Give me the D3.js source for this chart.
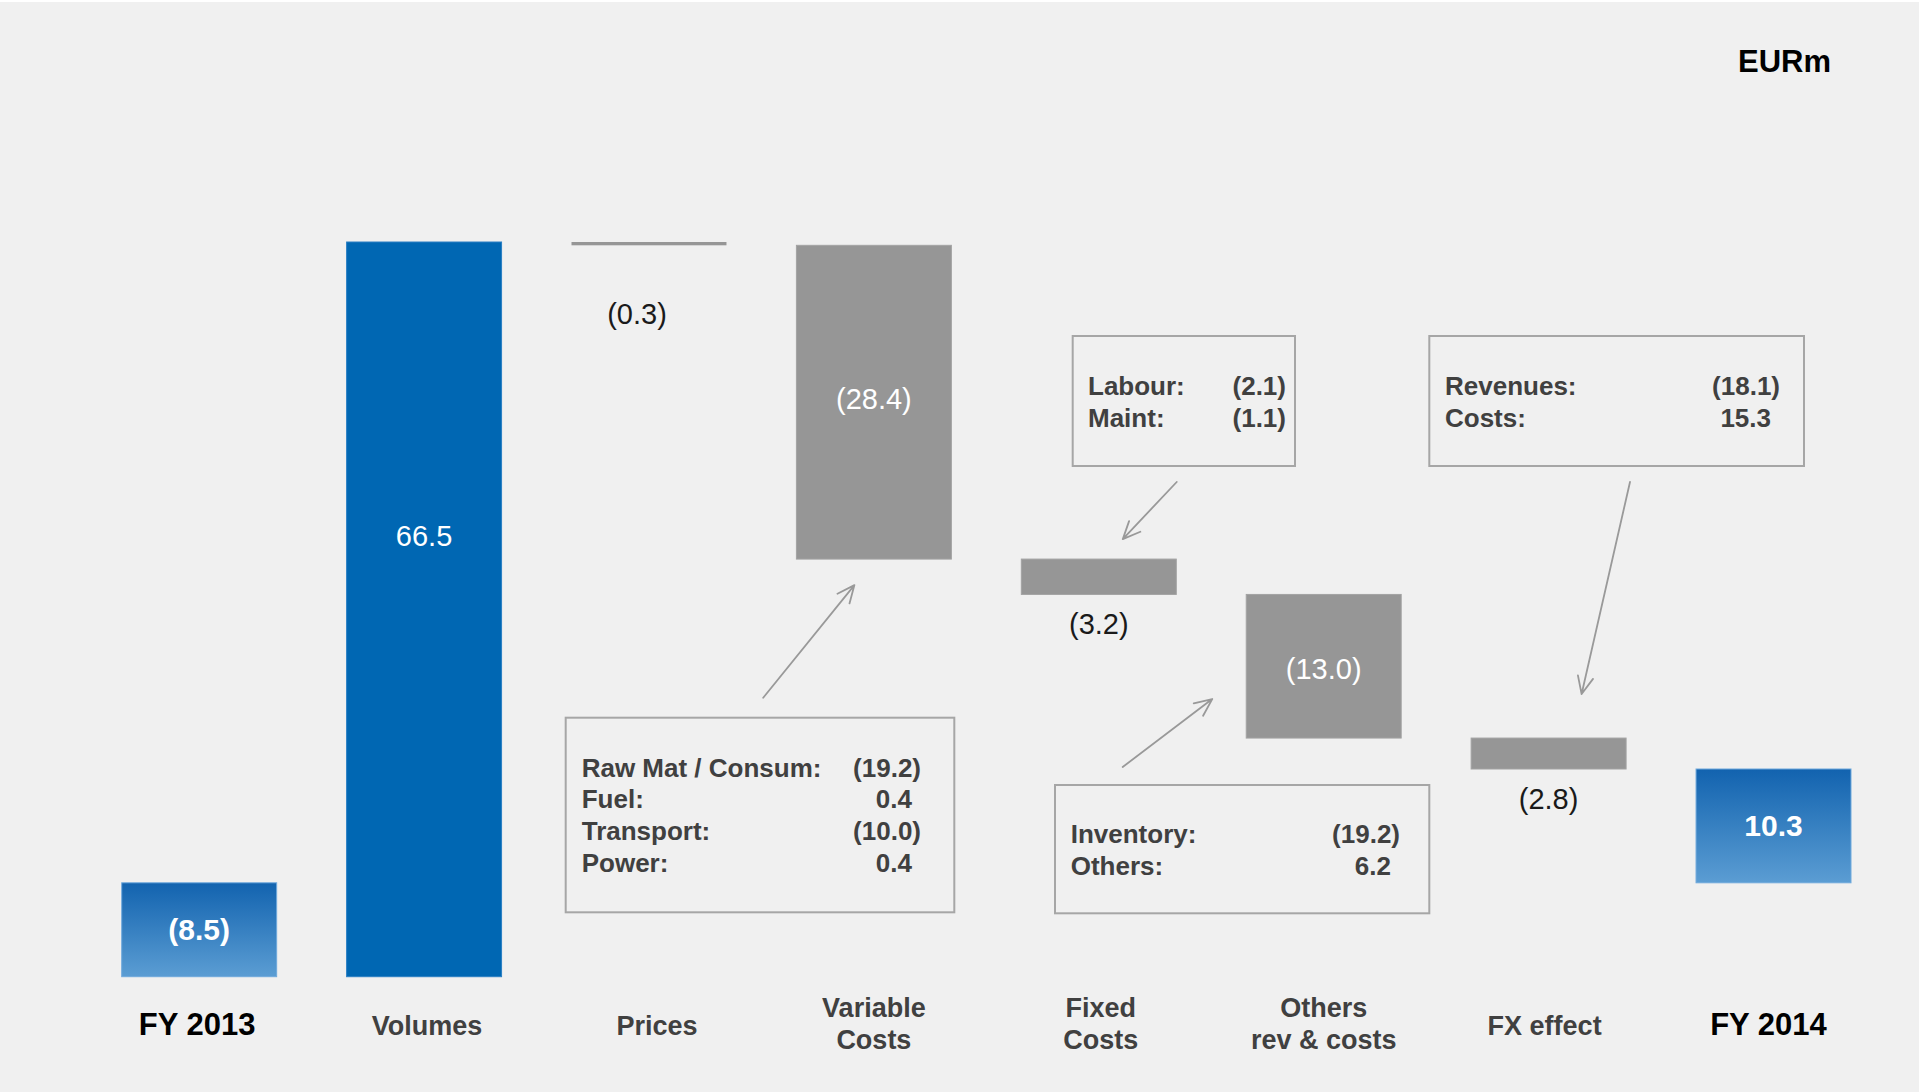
<!DOCTYPE html>
<html>
<head>
<meta charset="utf-8">
<script src="https://cdn.jsdelivr.net/npm/d3@7"></script>
<style>
  html, body { margin: 0; padding: 0; background: #f0f0f0; }
  svg { display: block; font-family: "Liberation Sans", Arial, sans-serif; }
</style>
</head>
<body>
<svg id="chart" width="1919" height="1092"></svg>
<script>
// EBITDA bridge FY 2013 -> FY 2014 (EURm)
const categories = ["FY 2013", "Volumes", "Prices", "Variable Costs", "Fixed Costs", "Others rev & costs", "FX effect", "FY 2014"];
const categoryLines = [["FY 2013"], ["Volumes"], ["Prices"], ["Variable", "Costs"], ["Fixed", "Costs"], ["Others", "rev & costs"], ["FX effect"], ["FY 2014"]];
const values = [-8.5, 66.5, -0.3, -28.4, -3.2, -13.0, -2.8, 10.3];
const kinds = ["total", "delta", "delta", "delta", "delta", "delta", "delta", "total"];

// Breakdown call-outs
const variableItems = ["Raw Mat / Consum:", "Fuel:", "Transport:", "Power:"];
const variableItemValues = [-19.2, 0.4, -10.0, 0.4];
const fixedItems = ["Labour:", "Maint:"];
const fixedItemValues = [-2.1, -1.1];
const othersItems = ["Inventory:", "Others:"];
const othersItemValues = [-19.2, 6.2];
const fxItems = ["Revenues:", "Costs:"];
const fxItemValues = [-18.1, 15.3];

const unitLabel = "EURm";

const fmt = v => v < 0 ? `(${Math.abs(v).toFixed(1)})` : v.toFixed(1);

// running totals -> bar extents
let run = 0;
const bars = categories.map((c, i) => {
  let lo, hi;
  if (kinds[i] === "total") { lo = Math.min(0, values[i]); hi = Math.max(0, values[i]); run = values[i]; }
  else { const s = run; run += values[i]; lo = Math.min(s, run); hi = Math.max(s, run); }
  return { cat: c, lines: categoryLines[i], value: values[i], kind: kinds[i], lo, hi };
});

const svg = d3.select("#chart");
svg.append("rect").attr("width", 1919).attr("height", 1092).attr("fill", "#f0f0f0");
svg.append("rect").attr("width", 1919).attr("height", 2).attr("fill", "#ffffff");

const x = d3.scaleBand().domain(categories).range([121.7, 1851]).paddingInner(0.311).paddingOuter(0);
const y = d3.scaleLinear()
  .domain([d3.min(bars, d => d.lo), d3.max(bars, d => d.hi)])
  .range([976.7, 242]);

const defs = svg.append("defs");
const grad = defs.append("linearGradient").attr("id", "totalGrad").attr("x1", 0).attr("y1", 0).attr("x2", 0).attr("y2", 1);
grad.append("stop").attr("offset", "0%").attr("stop-color", "#1263AF");
grad.append("stop").attr("offset", "100%").attr("stop-color", "#5B9DD3");

const fillFor = d => d.kind === "total" ? "url(#totalGrad)" : (d.value > 0 ? "#0067B3" : "#969696");

// bars
svg.append("g").selectAll("rect").data(bars).join("rect")
  .attr("x", d => x(d.cat))
  .attr("y", d => y(d.hi))
  .attr("width", x.bandwidth())
  .attr("height", d => Math.max(2, y(d.lo) - y(d.hi)))
  .attr("fill", fillFor)
  .attr("stroke", d => d.kind === "total" ? "#6FA9DC" : (d.value > 0 ? "#2a7fc4" : "#a3a3a3"))
  .attr("stroke-width", d => Math.abs(d.value) < 1 ? 0 : 1);

// value labels
const insideCats = new Set(["FY 2013", "Volumes", "Variable Costs", "Others rev & costs", "FY 2014"]);
const insideFrac = { "Volumes": 0.4, "Variable Costs": 0.49, "Others rev & costs": 0.52 };
const belowGap = { "Prices": 79 };
const valueShift = { "Prices": -12 };
const valueLayer = svg.append("g");
bars.forEach(d => {
  const cx = x(d.cat) + x.bandwidth() / 2 + (valueShift[d.cat] ?? 0);
  const t = valueLayer.append("text").attr("x", cx).attr("text-anchor", "middle").text(fmt(d.value));
  if (insideCats.has(d.cat)) {
    const top = y(d.hi), bot = y(d.lo);
    const f = insideFrac[d.cat] ?? 0.5;
    t.attr("y", top + (bot - top) * f).attr("dy", "0.35em").attr("fill", "#ffffff")
      .attr("font-size", d.kind === "total" ? 30 : 29)
      .attr("font-weight", d.kind === "total" ? "bold" : "normal");
  } else {
    t.attr("y", y(d.lo) + (belowGap[d.cat] ?? 40)).attr("fill", "#1a1a1a").attr("font-size", 29);
  }
});

// category labels
const labelShift = { "FY 2013": -2, "Volumes": 3, "Prices": 8, "Fixed Costs": 2, "FX effect": -4, "FY 2014": -5 };
const catLayer = svg.append("g");
bars.forEach(d => {
  const cx = x(d.cat) + x.bandwidth() / 2 + (labelShift[d.cat] ?? 0);
  const isTotal = d.kind === "total";
  const t = catLayer.append("text").attr("text-anchor", "middle")
    .attr("font-weight", "bold")
    .attr("font-size", isTotal ? 31 : 27)
    .attr("fill", isTotal ? "#000000" : "#404040");
  const n = d.lines.length;
  d.lines.forEach((ln, k) => {
    const base = n === 1 ? 1035 : 1017.3 + k * 32;
    t.append("tspan").attr("x", cx).attr("y", base).text(ln);
  });
});

// unit label
svg.append("text").attr("x", 1831).attr("y", 72).attr("text-anchor", "end")
  .attr("font-weight", "bold").attr("font-size", 31).attr("fill", "#000").text(unitLabel);

// call-out boxes
const boxes = [
  { cat: "Variable Costs", items: variableItems, vals: variableItemValues,
    x: 565.7, y: 717.7, w: 388.6, h: 194.6, tx: 581.7, base: 776.7, vr: 921,
    from: b => [b.x + 197.5, b.y - 20], to: bc => [bc.cx - 19.5, bc.bot + 26] },
  { cat: "Fixed Costs", items: fixedItems, vals: fixedItemValues,
    x: 1072.7, y: 336, w: 222.3, h: 130, tx: 1088, base: 395, vr: 1286,
    from: b => [b.x + 104, b.y + b.h + 16], to: bc => [bc.cx + 24, bc.top - 20] },
  { cat: "Others rev & costs", items: othersItems, vals: othersItemValues,
    x: 1055, y: 785, w: 374.3, h: 128.3, tx: 1070.7, base: 843.3, vr: 1400,
    from: b => [b.x + 67.7, b.y - 18], to: bc => [bc.left - 34, bc.bot - 39] },
  { cat: "FX effect", items: fxItems, vals: fxItemValues,
    x: 1429.3, y: 336, w: 374.7, h: 130, tx: 1445, base: 395, vr: 1780,
    from: b => [b.x + 200.7, b.y + b.h + 16], to: bc => [bc.cx + 33, bc.top - 44] }
];

const boxLayer = svg.append("g");
boxes.forEach(b => {
  boxLayer.append("rect").attr("x", b.x).attr("y", b.y).attr("width", b.w).attr("height", b.h)
    .attr("fill", "none").attr("stroke", "#a6a6a6").attr("stroke-width", 2);
  b.items.forEach((it, k) => {
    const by = b.base + k * 31.7;
    boxLayer.append("text").attr("x", b.tx).attr("y", by)
      .attr("font-size", 26).attr("font-weight", "bold").attr("fill", "#404040").text(it);
    boxLayer.append("text").attr("x", b.vals[k] < 0 ? b.vr : b.vr - 9).attr("y", by)
      .attr("text-anchor", "end")
      .attr("font-size", 26).attr("font-weight", "bold").attr("fill", "#404040").text(fmt(b.vals[k]));
  });

  // arrow from box to its bar
  const bar = bars.find(d => d.cat === b.cat);
  const bc = { cx: x(bar.cat) + x.bandwidth() / 2, left: x(bar.cat), top: y(bar.hi), bot: y(bar.lo) };
  const [x1, y1] = b.from(b), [x2, y2] = b.to(bc);
  const ang = Math.atan2(y2 - y1, x2 - x1), L = 19, spread = 0.42;
  const a1 = [x2 - L * Math.cos(ang - spread), y2 - L * Math.sin(ang - spread)];
  const a2 = [x2 - L * Math.cos(ang + spread), y2 - L * Math.sin(ang + spread)];
  boxLayer.append("path")
    .attr("d", `M${x1},${y1}L${x2},${y2}M${a1[0]},${a1[1]}L${x2},${y2}L${a2[0]},${a2[1]}`)
    .attr("fill", "none").attr("stroke", "#999999").attr("stroke-width", 1.8)
    .attr("stroke-linecap", "round").attr("stroke-linejoin", "round");
});
</script>
</body>
</html>
